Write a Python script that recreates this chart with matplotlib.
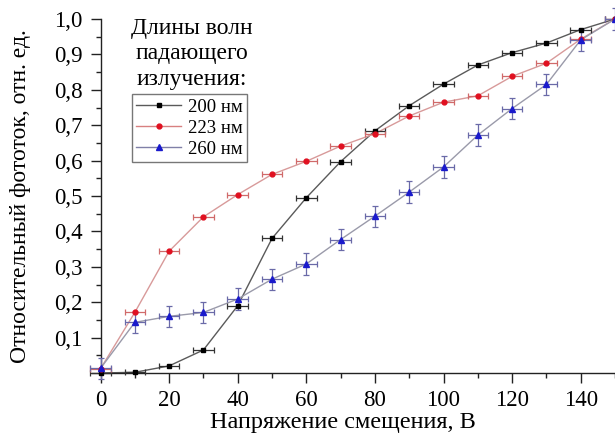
import matplotlib
matplotlib.use("Agg")
import matplotlib.pyplot as plt
from matplotlib.ticker import MultipleLocator, FuncFormatter
from matplotlib.lines import Line2D

voltage = [0, 10, 20, 30, 40, 50, 60, 70, 80, 90, 100, 110, 120, 130, 140, 150]
i_200 = [0.0, 0.002, 0.02, 0.065, 0.19, 0.38, 0.495, 0.597, 0.684, 0.755, 0.816, 0.87, 0.905, 0.932, 0.97, 1.0]
i_223 = [0.012, 0.171, 0.344, 0.441, 0.504, 0.561, 0.598, 0.641, 0.676, 0.726, 0.765, 0.783, 0.838, 0.875, 0.943, 1.0]
i_260 = [0.013, 0.143, 0.16, 0.171, 0.209, 0.265, 0.308, 0.377, 0.443, 0.511, 0.582, 0.672, 0.747, 0.815, 0.941, 1.0]
x_err = 3.0
y_err_260 = 0.03

legend_title = "Длины волн\nпадающего\nизлучения:"
labels = ["200 нм", "223 нм", "260 нм"]
xlabel = "Напряжение смещения, В"
ylabel = "Относительный фототок, отн. ед."

plt.rcParams['font.family'] = ['Liberation Serif', 'DejaVu Serif']

fig = plt.figure(figsize=(6.15, 4.38), dpi=100)
ax = fig.add_axes([100.5/615, 65/438, 514.5/615, 354/438])

series = [
    (i_200, 's', 3.5, 'black', '#333333', '#5a5a5a', None),
    (i_223, 'o', 3.5, '#e01020', '#d06a6a', '#d89a9a', None),
    (i_260, '^', 4.5, '#1a1acc', '#6a6aa8', '#9a9aaa', y_err_260),
]
for vals, mk, ms, mc, ec, lc, yerr in series:
    ax.plot(voltage, vals, '-', color=lc, lw=1.0, zorder=2, clip_on=False)
    ax.errorbar(voltage, vals, xerr=x_err, yerr=yerr, fmt=mk, ms=ms, mfc=mc, mec=mc,
                ecolor=ec, elinewidth=0.9, capsize=2.5, capthick=0.9, ls='none',
                clip_on=False, zorder=3)

ax.set_xlim(0, 150)
ax.set_ylim(0, 1.0)
for s in ['top', 'right']:
    ax.spines[s].set_visible(False)
for s in ['left', 'bottom']:
    ax.spines[s].set_color('#222222')
    ax.spines[s].set_linewidth(1.0)

ax.xaxis.set_major_locator(MultipleLocator(20))
ax.xaxis.set_minor_locator(MultipleLocator(10))
ax.yaxis.set_major_locator(MultipleLocator(0.1))
ax.yaxis.set_minor_locator(MultipleLocator(0.05))
ax.yaxis.set_major_formatter(FuncFormatter(lambda v, p: "" if abs(v) < 1e-9 else f"{v:.1f}".replace('.', ',')))
ax.tick_params(which='major', direction='out', length=7, width=1.0, color='#222222', labelsize=16.5, pad=6)
ax.tick_params(which='minor', direction='out', length=3.5, width=1.0, color='#222222')
ax.tick_params(axis='x', pad=5)

ax.set_xlabel(xlabel, fontsize=17.5)
ax.xaxis.set_label_coords((343 - 100.5) / 514.5, -(412 - 373) / 354)
ax.set_ylabel(ylabel, fontsize=17)
ax.yaxis.set_label_coords(-(100.5 - 31) / 514.5, 0.5)

handles = [
    Line2D([], [], color='#5a5a5a', lw=1.0, marker='s', ms=3.5, mfc='black', mec='black'),
    Line2D([], [], color='#d88080', lw=1.0, marker='o', ms=3.5, mfc='#e01020', mec='#e01020'),
    Line2D([], [], color='#8080a8', lw=1.0, marker='^', ms=4.5, mfc='#1a1acc', mec='#1a1acc'),
]
leg = ax.legend(handles, labels, loc='upper left', bbox_to_anchor=(31/514.5, 1 - 75/354),
                fontsize=13.5, frameon=True, fancybox=False, edgecolor='#555555',
                handlelength=2.4, handletextpad=0.35, borderpad=0.25, labelspacing=0.2, borderaxespad=0)
leg.get_frame().set_linewidth(1.0)
fig.text(192/615, 1 - 54/438, legend_title, fontsize=17, ha='center', va='center', linespacing=1.3)

fig.savefig("out.png", dpi=100)
